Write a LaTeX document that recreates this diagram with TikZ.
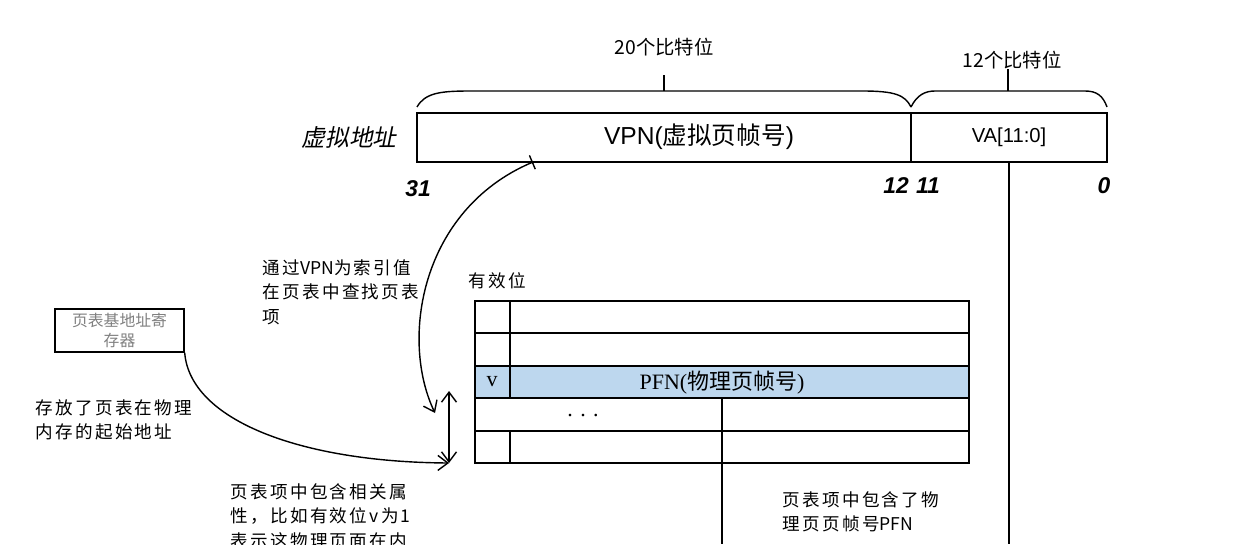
\documentclass[tikz,border=0pt]{standalone}
\usepackage{fontspec}
\setmainfont{Liberation Sans}
\newfontfamily\cjk[LetterSpace=13]{Noto Sans CJK SC}
\newfontfamily\cjktop{Noto Sans CJK SC}
\newfontfamily\cjkit[FakeSlant=0.2]{Noto Sans CJK SC}
\newfontfamily\serif{Liberation Serif}
\usetikzlibrary{arrows.meta}
\definecolor{pteblue}{RGB}{189,215,238}

\begin{document}
\begin{tikzpicture}[x=0.02cm,y=-0.02cm,line width=0.8pt,
  >={Straight Barb[length=2mm,width=3mm]},
  field/.style={draw,minimum height=0.98cm,inner sep=0,outer sep=0},
  row/.style={draw,minimum width=9.88cm,minimum height=0.648cm,inner sep=0,outer sep=0},
  note/.style={anchor=north west,align=left,inner sep=0,font=\cjk\fontsize{10}{13.9}\selectfont},
  bitno/.style={font=\fontsize{13}{13}\selectfont\bfseries\itshape},
  bits/.style={font=\cjktop\fontsize{11}{12}\selectfont},
  cell/.style={font=\serif\fontsize{12.5}{13}\selectfont}]

\clip (0,0) rectangle (1250,544);

\node[field,minimum width=9.88cm](vpn) at(664,137.5){};
\node[field,minimum width=3.92cm](va) at(1009,137.5){\fontsize{11.5}{12}\selectfont VA[11:0]};
\node[font=\fontsize{14}{15}\selectfont](vpn text) at(699,137){VPN({\cjktop 虚拟页帧号})};
\node[font=\cjkit\fontsize{13.5}{14}\selectfont](vaddr) at(349,137){虚拟地址};

\node[bitno](b31) at(418,189){31};
\node[bitno](b12) at(896,186){12};
\node[bitno](b11) at(928,186){11};
\node[bitno](b0) at(1104,186){0};

\node[bits](w20) at(664,47){20个比特位};
\node[bits](w12) at(1012,60){12个比特位};
\draw (417,107) .. controls (425,93) and (440,91) .. (470,91) -- (862,91) .. controls (895,91) and (905,95) .. (911,107);
\draw (664,91)--(664,75);
\draw (911,107) .. controls (917,95) and (925,91) .. (935,91) -- (1085,91) .. controls (1097,91) and (1103,96) .. (1107,107);
\draw (1008,91)--(1008,69);

\node[note](valid) at(468,272){有效位};
\node[row](r1) at(722,317){};
\node[row](r2) at(722,349.5){};
\node[row,fill=pteblue](r3) at(722,382){};
\node[row](r4) at(722,414.5){};
\node[row](r5) at(722,447){};
\draw ([xshift=0.7cm]r1.north west)--([xshift=0.7cm]r3.south west);
\draw ([xshift=0.7cm]r5.north west)--([xshift=0.7cm]r5.south west);
\node[cell](vbit) at(492,382){v};
\node[cell](pfn) at(722,383){PFN({\cjktop 物理页帧号})};
\node[cell](dots) at(583,416){.\,\,.\,\,.};

\coordinate(pfn end) at(722,544);
\coordinate(va end) at(1009,544);
\draw (r4.north)--(pfn end);
\draw (va.south)--(va end);

\node[draw,minimum width=2.58cm,minimum height=0.86cm,inner sep=0,align=center,text=gray,font=\cjktop\fontsize{9}{11.4}\selectfont](base) at(119.5,330.5){页表基地址寄\\存器};

\coordinate(vpn pt) at(533,162);
\coordinate(idx pt) at(435,413);
\coordinate(up pt) at(449,391);
\coordinate(low pt) at(449,463);
\draw[{Bar[width=3mm]}->](vpn pt) .. controls (420,210) and (400,340) .. (idx pt);
\draw[<->](up pt)--(low pt);
\draw[->](base.south east) .. controls (190,420) and (300,462) .. (low pt);

\node[note](find note) at(262,259){通过{\cjktop VPN}为索引值\\在页表中查找页表\\项};
\node[note](base note) at(35,399){存放了页表在物理\\内存的起始地址};
\node[note](attr note) at(230,483){页表项中包含相关属\\性，比如有效位v为1\\表示这物理页面在内};
\node[note](pfn note) at(782,491){页表项中包含了物\\理页页帧号{\cjktop PFN}};
\end{tikzpicture}
\end{document}
